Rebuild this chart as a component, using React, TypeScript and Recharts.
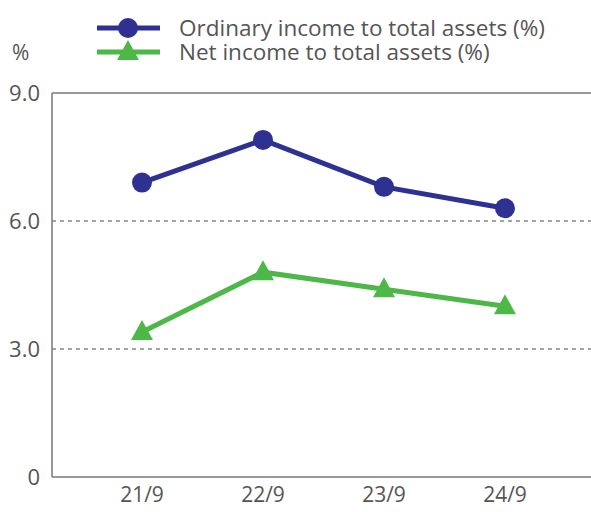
import { Line, LineChart, ReferenceLine, XAxis, YAxis } from "recharts";

const years = ["21/9", "22/9", "23/9", "24/9"];
const ordinaryIncome = [6.9, 7.9, 6.8, 6.3];
const netIncome = [3.4, 4.8, 4.4, 4.0];
const yTicks = [0, 3, 6, 9];
const gridLines = [3, 6];

const seriesNames = ["Ordinary income to total assets (%)", "Net income to total assets (%)"];

const BLUE = "#2E3192";
const GREEN = "#4DB848";
const TEXT = "#555555";
const FONT = "'Open Sans', sans-serif";

const data = years.map((year, i) => ({
  year,
  ordinary: ordinaryIncome[i],
  net: netIncome[i],
}));

const Triangle = (props: any) => {
  const { cx, cy, fill } = props;
  if (cx == null || cy == null) return null;
  return <path d={`M${cx},${cy - 12} L${cx + 11},${cy + 8} L${cx - 11},${cy + 8} Z`} fill={fill} />;
};

// legend drawn by hand, outside the chart so it takes no plot space
const LegendBox = () => (
  <svg width={480} height={70} style={{ fontFamily: FONT, display: "block" }}>
    <line x1={2} y1={18} x2={65} y2={18} stroke={BLUE} strokeWidth={5} />
    <circle cx={33} cy={18} r={10} fill={BLUE} />
    <text x={84} y={18} dy="0.35em" fontSize={22.5} fill={TEXT}>
      {seriesNames[0]}
    </text>
    <line x1={2} y1={42} x2={65} y2={42} stroke={GREEN} strokeWidth={5} />
    <path d="M33,30 L44,50 L22,50 Z" fill={GREEN} />
    <text x={84} y={42} dy="0.35em" fontSize={22.5} fill={TEXT}>
      {seriesNames[1]}
    </text>
  </svg>
);

export default function App() {
  return (
    <div style={{ position: "absolute", left: 0, top: 0, width: 591, height: 512, background: "#fff" }}>
      <LineChart
        width={591}
        height={512}
        data={data}
        margin={{ top: 93, right: 0, bottom: 5, left: 0 }}
        style={{ fontFamily: FONT }}
      >
        {gridLines.map((v) => (
          <ReferenceLine key={v} y={v} stroke="#888" strokeWidth={1.5} strokeDasharray="4 4" />
        ))}
        <ReferenceLine y={9} stroke="#777" strokeWidth={1.5} />
        <XAxis
          dataKey="year"
          padding={{ left: 90, right: 86 }}
          height={30}
          tickLine={false}
          axisLine={{ stroke: "#777", strokeWidth: 1.5 }}
          tick={{ fill: TEXT, fontSize: 21 }}
          tickMargin={10}
          tickSize={0}
        />
        <YAxis
          domain={[0, 9]}
          ticks={yTicks}
          width={52}
          tickLine={false}
          tickSize={0}
          tickMargin={12}
          axisLine={{ stroke: "#777", strokeWidth: 1.5 }}
          tick={{ fill: TEXT, fontSize: 22 }}
          tickFormatter={(v: number) => (v === 0 ? "0" : v.toFixed(1))}
        />
        <Line
          dataKey="ordinary"
          name={seriesNames[0]}
          stroke={BLUE}
          strokeWidth={5}
          dot={{ r: 10, fill: BLUE, stroke: "none" }}
          activeDot={false}
          isAnimationActive={false}
        />
        <Line
          dataKey="net"
          name={seriesNames[1]}
          stroke={GREEN}
          strokeWidth={5}
          dot={(p: any) => <Triangle key={p.index} {...p} fill={GREEN} />}
          activeDot={false}
          isAnimationActive={false}
        />
      </LineChart>
      <div style={{ position: "absolute", left: 95, top: 10 }}>
        <LegendBox />
      </div>
      <div style={{ position: "absolute", left: 12, top: 38, fontFamily: FONT, fontSize: 21, color: TEXT }}>%</div>
    </div>
  );
}
